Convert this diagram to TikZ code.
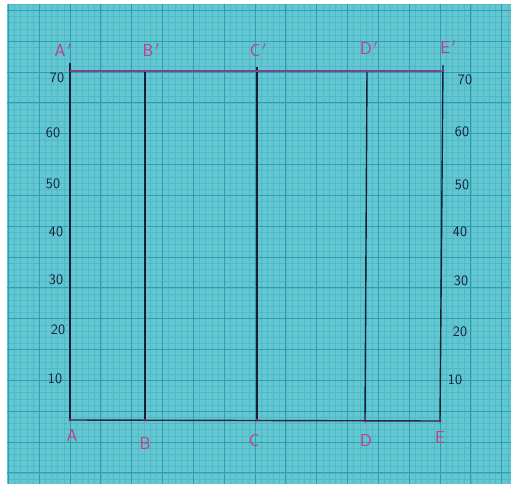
\documentclass[tikz,border=0pt]{standalone}
\usepackage{xcolor}
\usepackage{tikz}
\usetikzlibrary{
    positioning
}

\definecolor{paper}{RGB}{98,199,208}
\definecolor{gridminor}{RGB}{80,184,198}
\definecolor{gridmajor}{RGB}{42,158,180}
\definecolor{ink}{RGB}{20,32,55}
\definecolor{pinkink}{RGB}{196,58,138}
\definecolor{purpleink}{RGB}{128,66,140}
\definecolor{dotred}{RGB}{150,30,60}

\begin{document}
\begin{tikzpicture}[
    x=1pt, y=-1pt,
    minorline/.style={draw=gridminor, line width=0.45pt},
    majorline/.style={draw=gridmajor, line width=0.9pt},
    inkline/.style={draw=ink, line width=1.4pt},
    topline/.style={draw=purpleink, line width=1.4pt},
    baseline/.style={draw=ink!80!purpleink, line width=1.4pt},
    ptlabel/.style={text=pinkink, font=\sffamily\LARGE, inner sep=0pt},
    scalelabel/.style={text=ink, font=\sffamily\Large, inner sep=0pt}
]
\useasboundingbox (0,0) rectangle (511,484);

% paper
\fill[white] (0,0) rectangle (511,484);
\fill[paper] (7,4) rectangle (511,484);
\begin{scope}
    \clip (7,4) rectangle (511,484);
    \foreach \i in {-11,...,72}
        \draw[minorline] ({70+\i*6.1667},4) -- ++(0,480);
    \foreach \i in {-11,...,67}
        \draw[minorline] (7,{72+\i*6.1667}) -- ++(504,0);
    \foreach \i in {-2,...,14}
        \draw[majorline] ({70+\i*30.833},4) -- ++(0,480);
    \foreach \i in {-3,...,14}
        \draw[majorline] (7,{72+\i*30.833}) -- ++(504,0);
\end{scope}

% base points and top points
\coordinate (A) at (70,420);
\coordinate (B) at (145,420);
\coordinate (C) at (257,420);
\coordinate (D) at (365,421);
\coordinate (E) at (440,421);

\coordinate (A1) at (70,71);
\coordinate (B1) at (145,71);
\coordinate (C1) at (257,71);
\coordinate (D1) at (367,71);
\coordinate (E1) at (443,71);

\coordinate (Atop) at (70,63);
\coordinate (Ctop) at (257,67);
\coordinate (Etop) at (443,65);

% vertical lines
\draw[inkline] (A) -- (Atop);
\draw[inkline] (B) -- (B1);
\draw[inkline] (C) -- (Ctop);
\draw[inkline] (D) -- (D1);
\draw[inkline] (E) -- (Etop);

% top and base lines
\draw[topline] (A1) -- (E1);
\draw[baseline] (A) -- (E);

\foreach \p in {A,B,C,D,E}
    \fill[dotred] (\p) circle (1.6);

% point labels
\node[ptlabel] (labA) at (72,435) {A};
\node[ptlabel] (labB) at (145,443) {B};
\node[ptlabel] (labC) at (254,441) {C};
\node[ptlabel] (labD) at (366,440) {D};
\node[ptlabel] (labE) at (440,438) {E};

\node[ptlabel] (labA1) at (63,50) {A$^{\,\prime}$};
\node[ptlabel] (labB1) at (151,50) {B$^{\,\prime}$};
\node[ptlabel] (labC1) at (258,50) {C$^{\,\prime}$};
\node[ptlabel] (labD1) at (369,48) {D$^{\,\prime}$};
\node[ptlabel] (labE1) at (448,47) {E$^{\,\prime}$};

% scale, left side
\node[scalelabel] (l70) at (57,78) {70};
\node[scalelabel] (l60) at (53,133) {60};
\node[scalelabel] (l50) at (53,184) {50};
\node[scalelabel] (l40) at (56,232) {40};
\node[scalelabel] (l30) at (56,280) {30};
\node[scalelabel] (l20) at (58,330) {20};
\node[scalelabel] (l10) at (55,379) {10};

% scale, right side
\node[scalelabel] (r70) at (465,80) {70};
\node[scalelabel] (r60) at (462,132) {60};
\node[scalelabel] (r50) at (462,185) {50};
\node[scalelabel] (r40) at (460,232) {40};
\node[scalelabel] (r30) at (461,281) {30};
\node[scalelabel] (r20) at (460,332) {20};
\node[scalelabel] (r10) at (455,380) {10};

\end{tikzpicture}
\end{document}
